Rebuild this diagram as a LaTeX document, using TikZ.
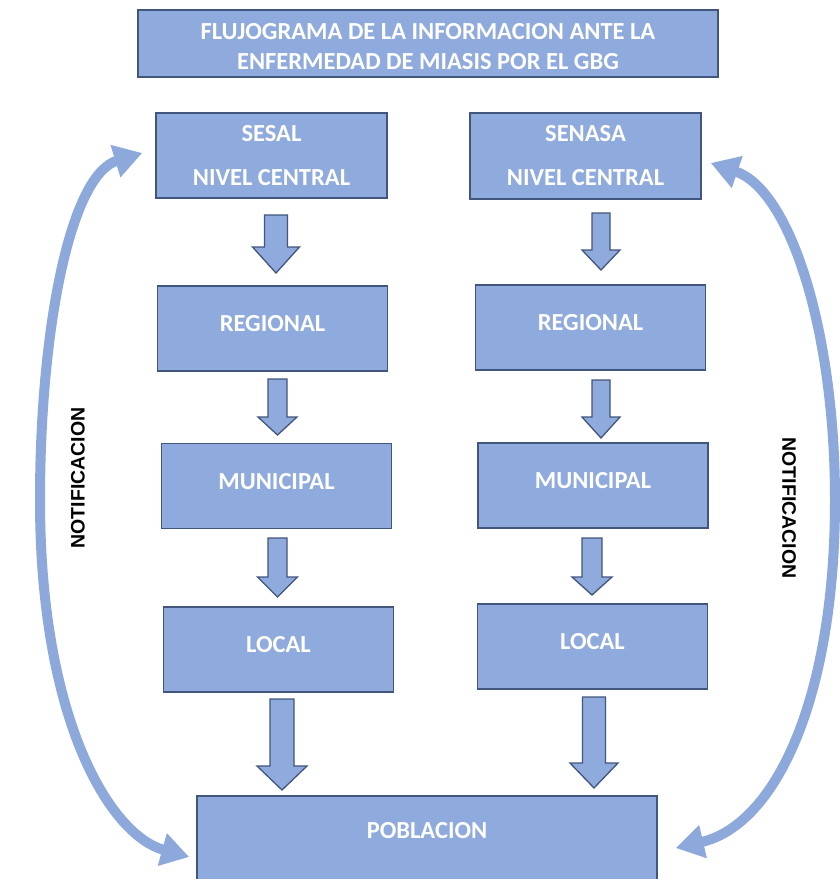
\documentclass[tikz,border=0pt]{standalone}
\usepackage{fontspec}
\setmainfont{Carlito}
\newfontfamily\arialfont{Liberation Sans}
\usetikzlibrary{arrows.meta,calc}
\definecolor{boxfill}{HTML}{8FAADC}
\definecolor{boxline}{HTML}{42557C}
\definecolor{arcblue}{HTML}{8DA9DB}
\newcommand\blockarr[6]{% cx, top, headY, tip, shafthalf, headhalf
  \draw[blk] (#1-#5,#2) -- (#1+#5,#2) -- (#1+#5,#3) -- (#1+#6,#3) -- (#1,#4)
    -- (#1-#6,#3) -- (#1-#5,#3) -- cycle;}
\begin{document}
\begin{tikzpicture}[x=1pt,y=-1pt,
  boxtext/.style={text=white, font=\bfseries\fontsize{24.5}{29}\selectfont, inner sep=0pt, align=center},
  box/.style={draw=boxline, line width=1.5pt, fill=boxfill, boxtext},
  lvl/.style={box, minimum width=230pt, minimum height=85pt, text height=16pt, text depth=10pt},
  blk/.style={draw=boxline, line width=1.3pt, fill=boxfill, line join=miter},
  notif/.style={draw=arcblue, line width=10pt,
    {Triangle[length=28pt,width=32pt]}-{Triangle[length=28pt,width=32pt]}},
  lab/.style={font=\arialfont\bfseries\fontsize{19.5}{22}\selectfont, text=black, inner sep=0pt}]
\useasboundingbox (0,0) rectangle (840,879);
\clip (0,0) rectangle (840,879);
\fill[white] (0,0) rectangle (840,879);

% title
\node[box, minimum width=580pt, minimum height=67pt] (title) at (428,43.5) {};
\node[boxtext] (titletext) at ($(title.center)+(0,3.5)$)
  {FLUJOGRAMA DE LA INFORMACION ANTE LA\\[1pt]ENFERMEDAD DE MIASIS POR EL GBG};

% left column
\node[box, minimum width=231pt, minimum height=85pt] (sesal) at (271.5,155.5)
  {SESAL\\[15pt]NIVEL CENTRAL};
\node[lvl] (regL) at (272.5,328.5) {REGIONAL};
\node[lvl] (munL) at (276.5,486) {MUNICIPAL};
\node[lvl] (locL) at (278.5,649.5) {LOCAL};

% right column
\node[box, minimum width=231pt, minimum height=86pt] (senasa) at (585.5,156)
  {SENASA\\[15pt]NIVEL CENTRAL};
\node[lvl] (regR) at (590.5,327.5) {REGIONAL};
\node[lvl] (munR) at (593,485.5) {MUNICIPAL};
\node[lvl] (locR) at (592.5,646.5) {LOCAL};

% poblacion
\node[box, minimum width=460pt, minimum height=86pt, text height=16pt, text depth=18pt] (pob) at (427,839) {POBLACION};

% block arrows
\blockarr{276}{215}{247}{273}{11.5}{23.5}
\blockarr{277.5}{379}{417}{435}{9.5}{19.5}
\blockarr{277.5}{538}{577}{597}{9.5}{20}
\blockarr{282}{699}{766}{790}{12}{25}
\blockarr{601}{213}{250}{270}{9}{19}
\blockarr{601}{380}{417}{438}{9}{19}
\blockarr{592}{538}{577}{595}{10}{20}
\blockarr{594}{697}{763}{788}{11.5}{24}

% curved notification arrows
\coordinate (lb) at ($(sesal.west)+(-13,-2.5)$);
\coordinate (la) at ($(pob.west)+(-7,18)$);
\draw[notif] (lb) .. controls (70,175) and (40,330) .. (40,500)
  .. controls (40,720) and (110,835) .. (la);
\coordinate (rb) at ($(senasa.east)+(9,7)$);
\coordinate (ra) at ($(pob.east)+(18,9)$);
\draw[notif] (rb) .. controls (790,190) and (835,330) .. (835,500)
  .. controls (835,700) and (775,825) .. (ra);

\node[lab, rotate=90] (nl) at (78,478) {NOTIFICACION};
\node[lab, rotate=-90] (nr) at (789,508) {NOTIFICACION};
\end{tikzpicture}
\end{document}
